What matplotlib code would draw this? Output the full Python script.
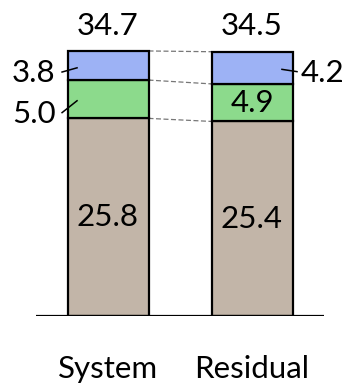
import matplotlib
matplotlib.use("Agg")
import matplotlib.pyplot as plt

# data
categories = ["System", "Residual"]
base = [25.8, 25.4]
middle = [5.0, 4.9]
top = [3.8, 4.2]
totals = [34.7, 34.5]

C_BASE = "#c2b5a8"
C_MID = "#8cda8c"
C_TOP = "#9db2f5"

plt.rcParams["font.family"] = ["Lato", "DejaVu Sans"]

fig = plt.figure(figsize=(3.49, 3.87), dpi=100)
# axes span: x pixels 36..324, y from baseline (316 px) to top of figure
ax = fig.add_axes([36 / 349, 1 - 316 / 387, 288 / 349, 316 / 387])
ax.set_xlim(-0.5, 1.5)
ax.set_ylim(0, 316 / 7.66)
ax.axis("off")

x = [0, 1]
w = 0.5625
lw = 1.6
bot2 = [b + m for b, m in zip(base, middle)]
stack = [b + m + t for b, m, t in zip(base, middle, top)]
ax.bar(x, base, w, color=C_BASE, edgecolor="black", linewidth=lw, zorder=2)
ax.bar(x, middle, w, bottom=base, color=C_MID, edgecolor="black", linewidth=lw, zorder=2)
ax.bar(x, top, w, bottom=bot2, color=C_TOP, edgecolor="black", linewidth=lw, zorder=2)

ax.axhline(0, color="black", linewidth=1.6, zorder=3)

# dashed connectors between bars
for y1, y2 in zip([base[0], bot2[0], stack[0]], [base[1], bot2[1], stack[1]]):
    ax.plot([w / 2, 1 - w / 2], [y1, y2], color="#777777", linestyle=(0, (4, 2)),
            linewidth=0.9, zorder=1)

fs = 22.5
for xi in x:
    ax.text(xi, stack[xi] + 3.3, f"{totals[xi]:.1f}", ha="center", va="center", fontsize=fs)
    ax.text(xi, base[xi] / 2, f"{base[xi]:.1f}", ha="center", va="center", fontsize=fs)

# Residual middle value inside
ax.text(1, base[1] + middle[1] / 2, f"{middle[1]:.1f}", ha="center", va="center", fontsize=fs)

# System top/middle labels on the left with leader lines
ax.plot([-0.319, -0.215], [bot2[0] + 1.05, bot2[0] + 1.6], color="black", lw=1.1, zorder=3)
ax.text(-0.365, bot2[0] + 0.9, f"{top[0]:.1f}", ha="right", va="center", fontsize=fs)
ax.plot([-0.319, -0.215], [base[0] + 0.75, base[0] + 2.3], color="black", lw=1.1, zorder=3)
ax.text(-0.365, base[0] + 0.6, f"{middle[0]:.1f}", ha="right", va="center", fontsize=fs)
# Residual top label on the right
ax.plot([1.208, 1.3125], [bot2[1] + 1.9, bot2[1] + 1.6], color="black", lw=1.1, zorder=3)
ax.text(1.34, bot2[1] + 1.4, f"{top[1]:.1f}", ha="left", va="center", fontsize=fs)

for xi, c in zip(x, categories):
    fig.text((36 + 144 * (xi + 0.5)) / 349, 1 - 369 / 387, c, ha="center", va="center",
             fontsize=fs)

fig.savefig("out.png", dpi=100)
